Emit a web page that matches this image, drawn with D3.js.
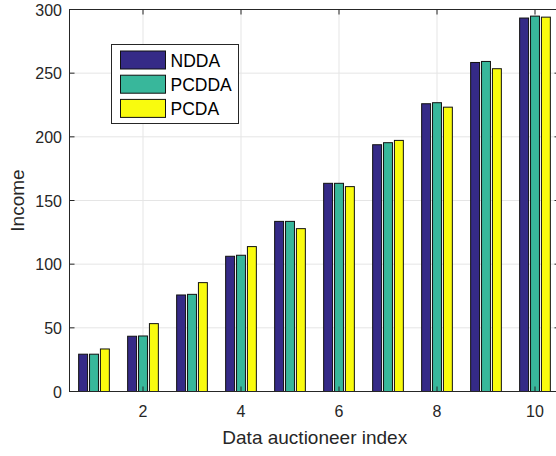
<!DOCTYPE html>
<html>
<head>
<meta charset="utf-8">
<script src="https://cdn.jsdelivr.net/npm/d3@7"></script>
<style>
  html, body { margin: 0; padding: 0; background: #fff; }
  svg { display: block; font-family: "Liberation Sans", Arial, sans-serif; }
</style>
</head>
<body>
<svg id="chart" width="556" height="456"></svg>
<script>
// Income earned by each data auctioneer under three mechanisms
const auctioneers = [1, 2, 3, 4, 5, 6, 7, 8, 9, 10];
const seriesNames = ["NDDA", "PCDDA", "PCDA"];
const ndda  = [29.3, 43.4, 75.8, 106.2, 133.6, 163.5, 193.8, 226.0, 258.4, 293.3];
const pcdda = [29.3, 43.6, 76.3, 107.0, 133.6, 163.5, 195.4, 226.8, 259.2, 294.8];
const pcda  = [33.4, 53.3, 85.5, 113.8, 127.9, 160.9, 197.2, 223.3, 253.5, 294.0];
const xTicks = [2, 4, 6, 8, 10];
const yTicks = [0, 50, 100, 150, 200, 250, 300];
const colors = ["#352a87", "#38b79b", "#f9fb0e"];

const series = [ndda, pcdda, pcda];

const svg = d3.select("#chart");
const plotL = 69.5, plotR = 559.5, plotT = 9.5, plotB = 391.5;

const x = d3.scaleLinear().domain([0.5, 10.5]).range([plotL, plotR]);
const y = d3.scaleLinear().domain([0, 300]).range([plotB, plotT]);

const textColor = "#262626";
const axisColor = "#262626";
const gridColor = "#e5e5e5";

// grid lines
const grid = svg.append("g");
grid.selectAll("line.gx").data(xTicks).join("line")
  .attr("x1", d => x(d)).attr("x2", d => x(d))
  .attr("y1", plotT).attr("y2", plotB)
  .attr("stroke", gridColor).attr("stroke-width", 1);
grid.selectAll("line.gy").data(yTicks).join("line")
  .attr("x1", plotL).attr("x2", plotR)
  .attr("y1", d => y(d)).attr("y2", d => y(d))
  .attr("stroke", gridColor).attr("stroke-width", 1);

// grouped bars: 3 series, group width 2/3 of a unit
const nSeries = series.length;
const groupWidth = Math.min(0.8, nSeries / (nSeries + 1.5));
const slot = groupWidth / nSeries;
const barWidth = slot * 0.82;

series.forEach((vals, si) => {
  const offset = (si - (nSeries - 1) / 2) * slot;
  svg.append("g").selectAll("rect").data(vals).join("rect")
    .attr("x", (d, i) => x(auctioneers[i] + offset - barWidth / 2))
    .attr("width", x(barWidth) - x(0))
    .attr("y", d => y(d))
    .attr("height", d => y(0) - y(d))
    .attr("fill", colors[si])
    .attr("stroke", "#111")
    .attr("stroke-width", 1);
});

// axes box and ticks (inward, on all four sides)
const tickLen = 5;
const axes = svg.append("g").attr("stroke", axisColor).attr("stroke-width", 1);
axes.append("rect").attr("x", plotL).attr("y", plotT)
  .attr("width", plotR - plotL).attr("height", plotB - plotT)
  .attr("fill", "none");
xTicks.forEach(t => {
  axes.append("line").attr("x1", x(t)).attr("x2", x(t)).attr("y1", plotB).attr("y2", plotB - tickLen);
  axes.append("line").attr("x1", x(t)).attr("x2", x(t)).attr("y1", plotT).attr("y2", plotT + tickLen);
});
yTicks.forEach(t => {
  axes.append("line").attr("x1", plotL).attr("x2", plotL + tickLen).attr("y1", y(t)).attr("y2", y(t));
  axes.append("line").attr("x1", plotR).attr("x2", plotR - tickLen).attr("y1", y(t)).attr("y2", y(t));
});

// tick labels
svg.append("g").selectAll("text").data(xTicks).join("text")
  .attr("x", d => x(d)).attr("y", plotB + 25)
  .attr("text-anchor", "middle")
  .attr("font-size", 16).attr("fill", textColor)
  .text(d => d);
svg.append("g").selectAll("text").data(yTicks).join("text")
  .attr("x", plotL - 7.5).attr("y", d => y(d) + 6)
  .attr("text-anchor", "end")
  .attr("font-size", 16).attr("fill", textColor)
  .text(d => d);

// axis titles
svg.append("text")
  .attr("x", (plotL + 556) / 2 + 2).attr("y", 444)
  .attr("text-anchor", "middle")
  .attr("font-size", 19).attr("fill", textColor)
  .text("Data auctioneer index");
svg.append("text")
  .attr("transform", `translate(24, ${(plotT + plotB) / 2}) rotate(-90)`)
  .attr("text-anchor", "middle")
  .attr("font-size", 19).attr("fill", textColor)
  .text("Income");

// legend
const legend = svg.append("g");
legend.append("rect")
  .attr("x", 111.5).attr("y", 44.5).attr("width", 127).attr("height", 79)
  .attr("fill", "#fff").attr("stroke", "#262626").attr("stroke-width", 1);
seriesNames.forEach((name, i) => {
  const yy = 51 + i * 24.2;
  legend.append("rect")
    .attr("x", 120.5).attr("y", yy).attr("width", 45).attr("height", 18)
    .attr("fill", colors[i]).attr("stroke", "#111").attr("stroke-width", 1);
  legend.append("text")
    .attr("x", 170.5).attr("y", yy + 15.5)
    .attr("font-size", 17.5).attr("fill", "#000")
    .text(name);
});
</script>
</body>
</html>
